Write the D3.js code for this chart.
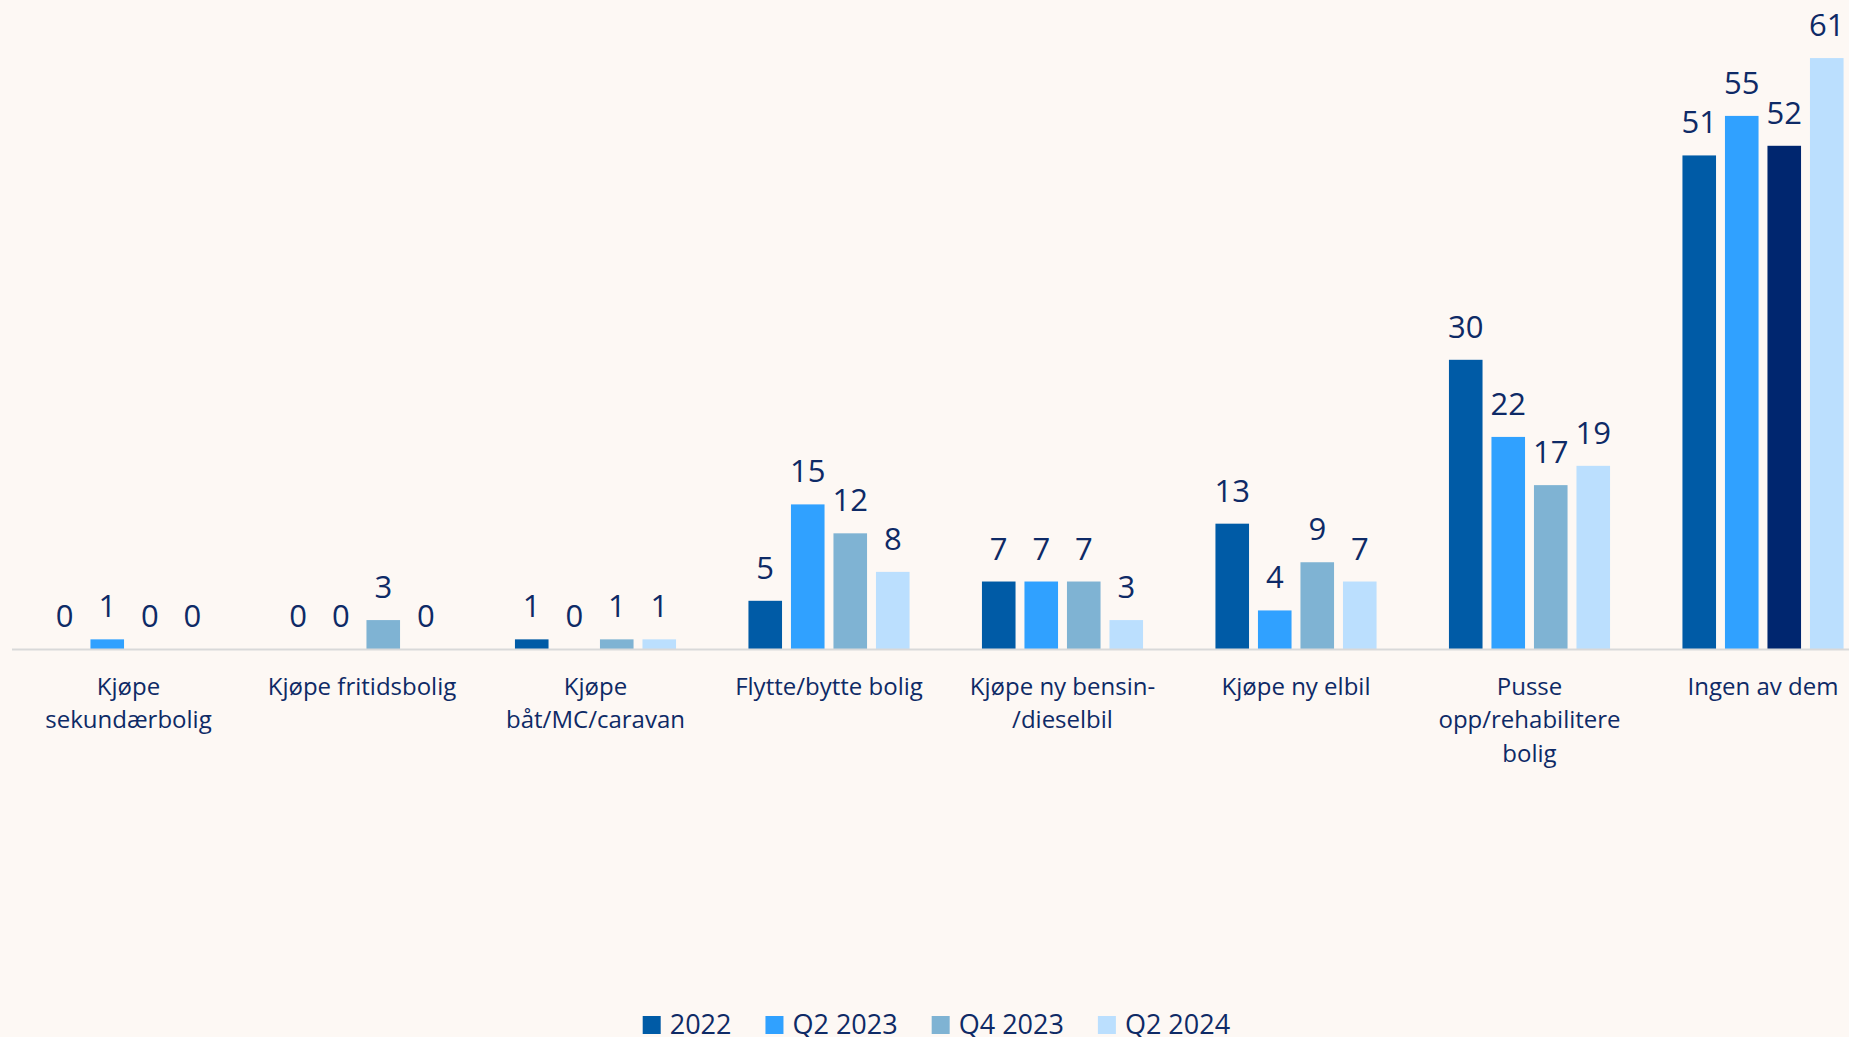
<!DOCTYPE html>
<html>
<head>
<meta charset="utf-8">
<script src="https://cdnjs.cloudflare.com/ajax/libs/d3/7.8.5/d3.min.js"></script>
<style>
  html, body { margin: 0; padding: 0; background: #fdf8f4; }
  svg { display: block; }
  text { font-family: "Open Sans", "Noto Sans", sans-serif; fill: #0e2a66; }
</style>
</head>
<body>
<svg id="chart" width="1849" height="1037"></svg>
<script>
// ---- data ----
const categories = [
  "Kjøpe\nsekundærbolig",
  "Kjøpe fritidsbolig",
  "Kjøpe\nbåt/MC/caravan",
  "Flytte/bytte bolig",
  "Kjøpe ny bensin-\n/dieselbil",
  "Kjøpe ny elbil",
  "Pusse\nopp/rehabilitere\nbolig",
  "Ingen av dem"
];
const seriesNames = ["2022", "Q2 2023", "Q4 2023", "Q2 2024"];
const values2022   = [0, 0, 1, 5, 7, 13, 30, 51.2];
const valuesQ22023 = [1, 0, 0, 15, 7, 4, 22, 55.3];
const valuesQ42023 = [0, 3, 1, 12, 7, 9, 17, 52.2];
const valuesQ22024 = [0, 0, 1, 8, 3, 7, 19, 61.3];
const seriesColors = ["#005ba6", "#30a1ff", "#7fb3d3", "#bbdffe"];
const highlightColor = "#00266f"; // the Q4 2023 bar of "Ingen av dem"

const seriesValues = [values2022, valuesQ22023, valuesQ42023, valuesQ22024];

// ---- layout ----
const svg = d3.select("#chart");
const W = 1849, H = 1037;
const baseY = 649;

const x0 = d3.scaleBand().domain(categories).range([11.75, 1879.75]).padding(0);
const x1 = d3.scaleBand().domain(seriesNames).range([36.2, 197.3]).paddingInner(0.21).paddingOuter(0);
const y = d3.scaleLinear().domain([0, 65]).range([baseY, baseY - 65 * 9.64]);

const fmt = d3.format(".0f");

// bars
const groups = svg.append("g").selectAll("g")
  .data(categories)
  .join("g")
  .attr("transform", d => `translate(${x0(d)},0)`);

groups.each(function(cat, ci) {
  const g = d3.select(this);
  const recs = seriesNames.map((s, si) => ({ s, si, v: seriesValues[si][ci] }));
  g.selectAll("rect")
    .data(recs)
    .join("rect")
    .attr("x", d => x1(d.s))
    .attr("width", x1.bandwidth())
    .attr("y", d => y(d.v))
    .attr("height", d => y(0) - y(d.v))
    .attr("fill", d => (ci === categories.length - 1 && d.si === 2) ? highlightColor : seriesColors[d.si]);
  g.selectAll("text.val")
    .data(recs)
    .join("text")
    .attr("class", "val")
    .attr("x", d => x1(d.s) + x1.bandwidth() / 2)
    .attr("y", d => y(d.v) - 22)
    .attr("text-anchor", "middle")
    .style("font-size", "31px")
    .text(d => fmt(d.v));
});

// axis line
svg.append("line")
  .attr("x1", 12).attr("x2", W)
  .attr("y1", baseY + 0.5).attr("y2", baseY + 0.5)
  .attr("stroke", "#d9d9d9").attr("stroke-width", 1.8);

// category labels
const catG = svg.append("g");
categories.forEach(cat => {
  const cx = x0(cat) + x0.bandwidth() / 2;
  const t = catG.append("text")
    .attr("text-anchor", "middle")
    .style("font-size", "24px");
  cat.split("\n").forEach((line, i) => {
    t.append("tspan")
      .attr("x", cx)
      .attr("y", 695 + i * 33.3)
      .text(line);
  });
});

// legend
const legend = svg.append("g");
let lx = 642.7;
seriesNames.forEach((s, i) => {
  legend.append("rect")
    .attr("x", lx).attr("y", 1016)
    .attr("width", 18).attr("height", 18)
    .attr("fill", seriesColors[i]);
  const t = legend.append("text")
    .attr("x", lx + 27).attr("y", 1034)
    .style("font-size", "27px")
    .text(s);
  const w = t.node().getComputedTextLength();
  lx = lx + 27 + w + 34;
});
</script>
</body>
</html>
